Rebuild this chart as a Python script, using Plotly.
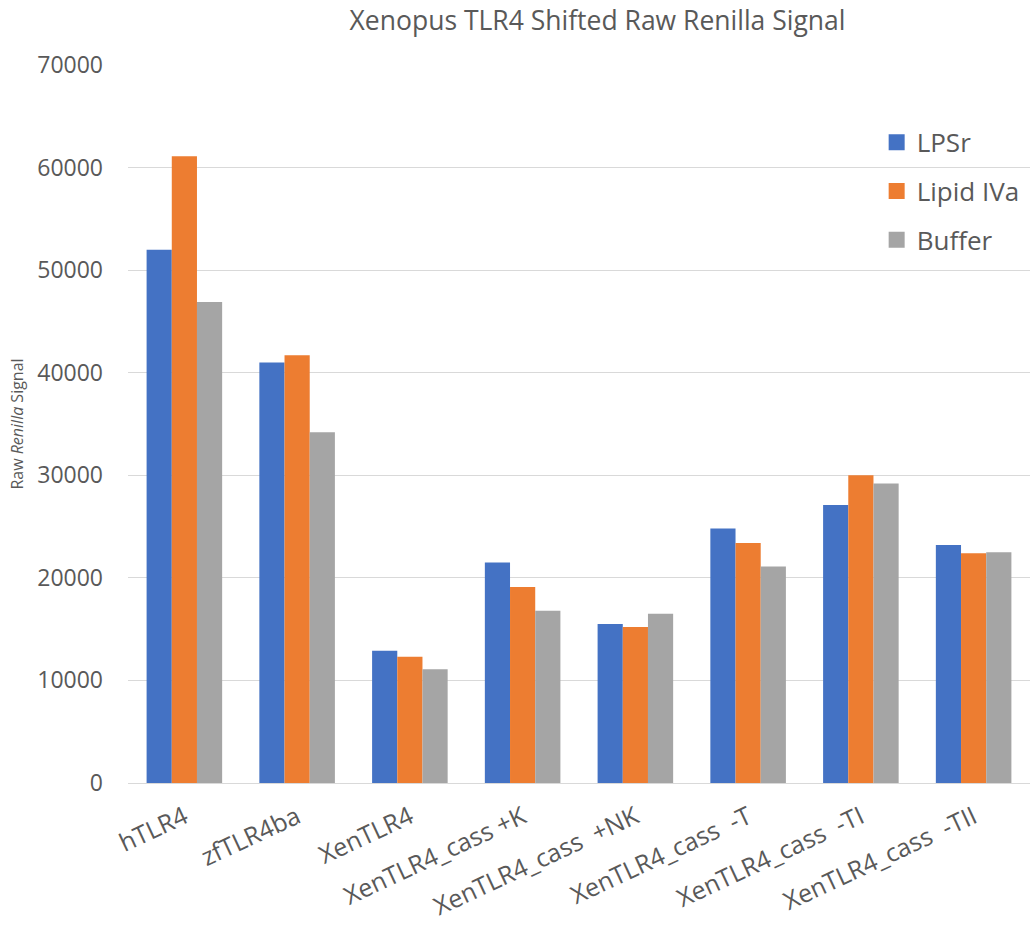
import plotly.graph_objects as go

# Constructs on the x axis
constructs = [
    "hTLR4",
    "zfTLR4ba",
    "XenTLR4",
    "XenTLR4_cass +K",
    "XenTLR4_cass \u00a0+NK",
    "XenTLR4_cass \u00a0-T",
    "XenTLR4_cass \u00a0-TI",
    "XenTLR4_cass \u00a0-TII",
]

# Raw Renilla signal per treatment
lpsr = [52000, 41000, 12900, 21500, 15500, 24800, 27100, 23200]
lipid_iva = [61100, 41700, 12300, 19100, 15200, 23400, 30000, 22400]
buffer = [46900, 34200, 11100, 16800, 16500, 21100, 29200, 22500]

y_ticks = [0, 10000, 20000, 30000, 40000, 50000, 60000, 70000]

series = [
    ("LPSr", lpsr, "#4472C4"),
    ("Lipid IVa", lipid_iva, "#ED7D31"),
    ("Buffer", buffer, "#A5A5A5"),
]

fig = go.Figure()
for name, vals, color in series:
    fig.add_trace(go.Bar(
        x=constructs, y=vals, name=name,
        marker=dict(color=color, line=dict(width=0)),
        legendgroup=name, showlegend=False,
    ))
    # larger square key for the legend
    fig.add_trace(go.Scatter(
        x=[None], y=[None], mode="markers", name=name,
        marker=dict(symbol="square", size=16, color=color, line=dict(width=0)),
        legendgroup=name, showlegend=True, hoverinfo="skip",
    ))

font_family = "Open Sans, Segoe UI, sans-serif"
text_color = "#595959"

fig.update_layout(
    width=1032, height=928,
    paper_bgcolor="white", plot_bgcolor="white",
    margin=dict(l=128, r=2, t=65, b=145),
    barmode="group", bargap=0.33, bargroupgap=0,
    font=dict(family=font_family, color=text_color),
    title=dict(
        text="Xenopus TLR4 Shifted Raw Renilla Signal",
        x=0.579, xanchor="center", xref="container",
        y=0.978, yanchor="middle", yref="container",
        font=dict(size=26.5, color=text_color, family=font_family),
    ),
    legend=dict(
        x=0.83, xanchor="left", y=0.925, yanchor="top",
        font=dict(size=26, color=text_color),
        bgcolor="rgba(0,0,0,0)", tracegroupgap=12,
        itemwidth=30,
    ),
    showlegend=True,
)

fig.update_yaxes(
    range=[0, 70000], tickvals=y_ticks, ticktext=[str(v) for v in y_ticks],
    showgrid=True, gridcolor="#D9D9D9", gridwidth=1,
    zeroline=False, showline=False, ticks="",
    tickfont=dict(size=23, color=text_color),
    ticklabelstandoff=24, automargin=False,
    title=dict(text="Raw <i>Renilla</i> Signal", font=dict(size=16, color=text_color), standoff=9),
)

fig.update_xaxes(
    showline=True, linecolor="#D9D9D9", linewidth=1,
    ticks="", tickangle=-25,
    tickfont=dict(size=25, color=text_color),
    ticklabelstandoff=9, automargin=False,
    showgrid=False,
)

fig.write_html("out.html")
